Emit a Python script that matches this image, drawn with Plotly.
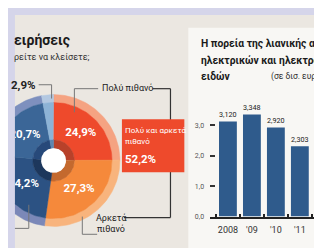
import numpy as np
import plotly.graph_objects as go

# ---------------- data ----------------
pie_labels = ["24,9%", "27,3%", "24,2%", "20,7%", "2,9%"]
pie_values = [24.9, 27.3, 24.2, 20.7, 2.9]
main_colors = ["#ee4a2c", "#f5893b", "#2c5283", "#3b6697", "#8db3d6"]
outer_colors = ["#f5a382", "#f8b47d", "#7b88b8", "#7e90be", "#b3c8e1"]
inner_colors = ["#b8412a", "#c4692e", "#1d375c", "#27497a", "#5f87b0"]

years = ["2008", "'09", "'10", "'11", "'12"]
sales = [3.120, 3.348, 2.920, 2.303, 1.852]
y_ticks = [0, 1, 2, 3]

W, H = 322, 248
FONT = "Roboto, Liberation Sans, sans-serif"


def px(x):
    return x / W


def py(y):
    return 1 - y / H


fig = go.Figure()

# ---------------- donut (cartesian, 1 unit = 1 px) ----------------
cx, cy = 46, 155
R_OUT, R_MAIN, R_DARK, R_HOLE = 67, 59, 21, 12.5


def wedge(a0, a1, r0, r1):
    t = np.linspace(a0, a1, max(8, int(abs(a1 - a0) / 2) + 2))
    rad = np.deg2rad(t)
    xo = r1 * np.sin(rad)
    yo = r1 * np.cos(rad)
    xi = r0 * np.sin(rad[::-1])
    yi = r0 * np.cos(rad[::-1])
    return np.concatenate([xo, xi, xo[:1]]), np.concatenate([yo, yi, yo[:1]])


total = sum(pie_values)
cum = np.concatenate([[0], np.cumsum(pie_values)]) / total * 360
for ring_r0, ring_r1, cols in [(R_MAIN, R_OUT, outer_colors),
                               (R_DARK, R_MAIN, main_colors),
                               (R_HOLE, R_DARK, inner_colors)]:
    for i in range(len(pie_values)):
        xs, ys = wedge(cum[i], cum[i + 1], ring_r0, ring_r1)
        fig.add_trace(go.Scatter(x=xs, y=ys, mode="lines", fill="toself",
                                 fillcolor=cols[i], line=dict(width=0.5, color=cols[i]),
                                 hoverinfo="skip", showlegend=False,
                                 xaxis="x", yaxis="y"))
th = np.deg2rad(np.linspace(0, 360, 90))
fig.add_trace(go.Scatter(x=R_HOLE * np.sin(th), y=R_HOLE * np.cos(th), mode="lines",
                         fill="toself", fillcolor="#ffffff", line=dict(width=0, color="#ffffff"),
                         hoverinfo="skip", showlegend=False, xaxis="x", yaxis="y"))

# donut value labels (inside)
lab_r = 39
for i in range(4):
    mid = np.deg2rad((cum[i] + cum[i + 1]) / 2)
    fig.add_trace(go.Scatter(x=[lab_r * np.sin(mid)], y=[lab_r * np.cos(mid)], mode="text",
                             text=[f"<b>{pie_labels[i]}</b>"],
                             textfont=dict(family=FONT, size=11.5, color="#ffffff"),
                             hoverinfo="skip", showlegend=False, xaxis="x", yaxis="y"))

# ---------------- bar chart ----------------
fig.add_trace(go.Bar(x=years, y=sales, marker=dict(color="#2f5b8c", line=dict(width=0)),
                     width=0.744, texttemplate="%{y:.3f}", textposition="outside",
                     textfont=dict(family=FONT, size=8.5, color="#222222"),
                     cliponaxis=False, hoverinfo="skip", showlegend=False,
                     xaxis="x2", yaxis="y2"))

step = 24.2
x0_px, bar0_px = 204, 222
y0_px, unit = 212, 31.0
ytop = 3.8

layout_shapes = [
    dict(type="rect", xref="paper", yref="paper", x0=px(7), x1=1, y0=0, y1=py(7),
         fillcolor="#ebe7e1", line=dict(width=0), layer="below"),
    dict(type="rect", xref="paper", yref="paper", x0=px(182), x1=1, y0=py(244), y1=py(20),
         fillcolor="#f8f7f4", line=dict(width=0), layer="below"),
]


def seg(x0, y0, x1, y1, color="#777777", w=1):
    return dict(type="line", xref="paper", yref="paper", x0=px(x0), y0=py(y0),
                x1=px(x1), y1=py(y1), line=dict(color=color, width=w), layer="above")


layout_shapes += [
    seg(31, 78, 44, 78), seg(44, 78, 44, 92),
    seg(67, 82, 91, 82), seg(67, 82, 67, 106),
    seg(146, 82, 164, 82, "#333333", 1.2), seg(164, 82, 164, 213, "#333333", 1.2),
    seg(164, 213, 117, 213, "#333333", 1.2),
    seg(75, 212, 75, 230), seg(75, 230, 90, 230),
    seg(21, 200, 21, 224), seg(21, 224, 7, 224),
    dict(type="rect", xref="paper", yref="paper", x0=px(115), x1=px(178), y0=py(167), y1=py(113),
         fillcolor="#ee4a2c", line=dict(width=0), layer="above"),
]


def ann(x, y, text, size, color="#222222", bold=False, xanchor="left"):
    return dict(x=px(x), y=py(y), xref="paper", yref="paper", text=f"<b>{text}</b>" if bold else text,
                showarrow=False, xanchor=xanchor, yanchor="middle", borderpad=0,
                font=dict(family=FONT, size=size, color=color))


annotations = [
    ann(5, 33, "ειρήσεις", 14, "#1a1a1a", True),
    ann(5, 50, "ρείτε να κλείσετε;", 9, "#333333"),
    ann(29, 78, "2,9%", 11.5, "#222222", True, "right"),
    ann(94, 81, "Πολύ πιθανό", 9, "#222222"),
    ann(117, 124, "Πολύ και αρκετά", 8, "#ffffff"),
    ann(117, 136, "πιθανό", 8, "#ffffff"),
    ann(117, 153, "52,2%", 11.5, "#ffffff", True),
    ann(104, 213, "Αρκετά", 9, "#222222", False, "center"),
    ann(104, 225, "πιθανό", 9, "#222222", False, "center"),
    ann(194, 36, "Η πορεία της λιανικής αγοράς", 10.3, "#1a1a1a", True),
    ann(194, 53, "ηλεκτρικών και ηλεκτρονικών", 10.3, "#1a1a1a", True),
    ann(194, 70, "ειδών", 10.3, "#1a1a1a", True),
    ann(264, 70, "(σε δισ. ευρώ)", 8.5, "#333333"),
]

fig.update_layout(
    width=W, height=H, margin=dict(l=0, r=0, t=0, b=0),
    paper_bgcolor="#d5d5ea", plot_bgcolor="rgba(0,0,0,0)",
    separators=",.",
    shapes=layout_shapes, annotations=annotations,
    xaxis=dict(domain=[px(7), px(181)], range=[7 - cx, 181 - cx], visible=False, fixedrange=True),
    yaxis=dict(domain=[0, py(7)], range=[-(H - cy), cy - 7], visible=False, fixedrange=True),
    xaxis2=dict(domain=[px(x0_px), 1], type="category", anchor="y2",
                range=[-(bar0_px - x0_px) / step, (W - bar0_px) / step],
                showline=True, linecolor="#222222", linewidth=1.5,
                ticks="inside", tickson="boundaries", ticklen=3, tickwidth=1.5, tickcolor="#222222",
                tickangle=0,
                tickfont=dict(family=FONT, size=9, color="#333333"),
                ticklabelstandoff=4, showgrid=False, zeroline=False, fixedrange=True),
    yaxis2=dict(domain=[py(y0_px), py(y0_px - ytop * unit)], range=[0, ytop], anchor="x2",
                tickvals=y_ticks, tickformat=".1f", ticks="inside", ticklen=5, tickwidth=2,
                tickcolor="#333333", showgrid=False, zeroline=False, showline=False,
                tickfont=dict(family=FONT, size=7, color="#555555"),
                ticklabelstandoff=5, fixedrange=True),
)

fig.write_html("out.html", config=dict(displayModeBar=False))
